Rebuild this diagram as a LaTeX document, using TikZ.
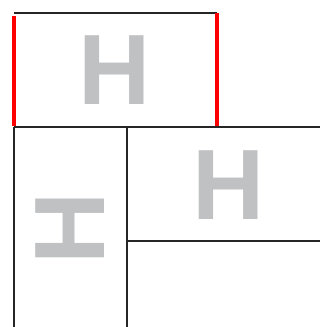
\documentclass[tikz,border=0pt]{standalone}
\usepackage{fontspec}
\setmainfont{Liberation Sans}
\definecolor{hgray}{RGB}{192,193,195}
\begin{document}
\begin{tikzpicture}[x=1pt,y=-1pt,
  edge/.style={draw=black!85,line width=1.5pt},
  rededge/.style={draw=red,line width=4pt},
  bigH/.style={inner sep=0pt,text=hgray,font=\fontsize{100}{100}\selectfont\bfseries}]
\useasboundingbox (0,0) rectangle (320,327);
\coordinate (tl) at (14,13);
\coordinate (tr) at (217,13);
\coordinate (bl) at (14,127);
\coordinate (br) at (217,127);
\coordinate (re) at (320,127);
\coordinate (mid) at (127,127);
\coordinate (midb) at (127,327);
\coordinate (lb) at (14,327);
\coordinate (hm) at (127,241);
\coordinate (hr) at (320,241);
\draw[edge] (tl) -- (tr);
\draw[edge] (bl) -- (re);
\draw[edge] (bl) -- (lb);
\draw[edge] (mid) -- (midb);
\draw[edge] (hm) -- (hr);
\draw[rededge] ([yshift=-3pt]tl) -- ([yshift=1pt]bl);
\draw[rededge] (tr) -- ([yshift=1pt]br);
\node[bigH] (h1) at (115,70) {H};
\node[bigH] (h2) at (229,185) {H};
\node[bigH,rotate=90] (h3) at (70,228) {H};
\end{tikzpicture}
\end{document}
